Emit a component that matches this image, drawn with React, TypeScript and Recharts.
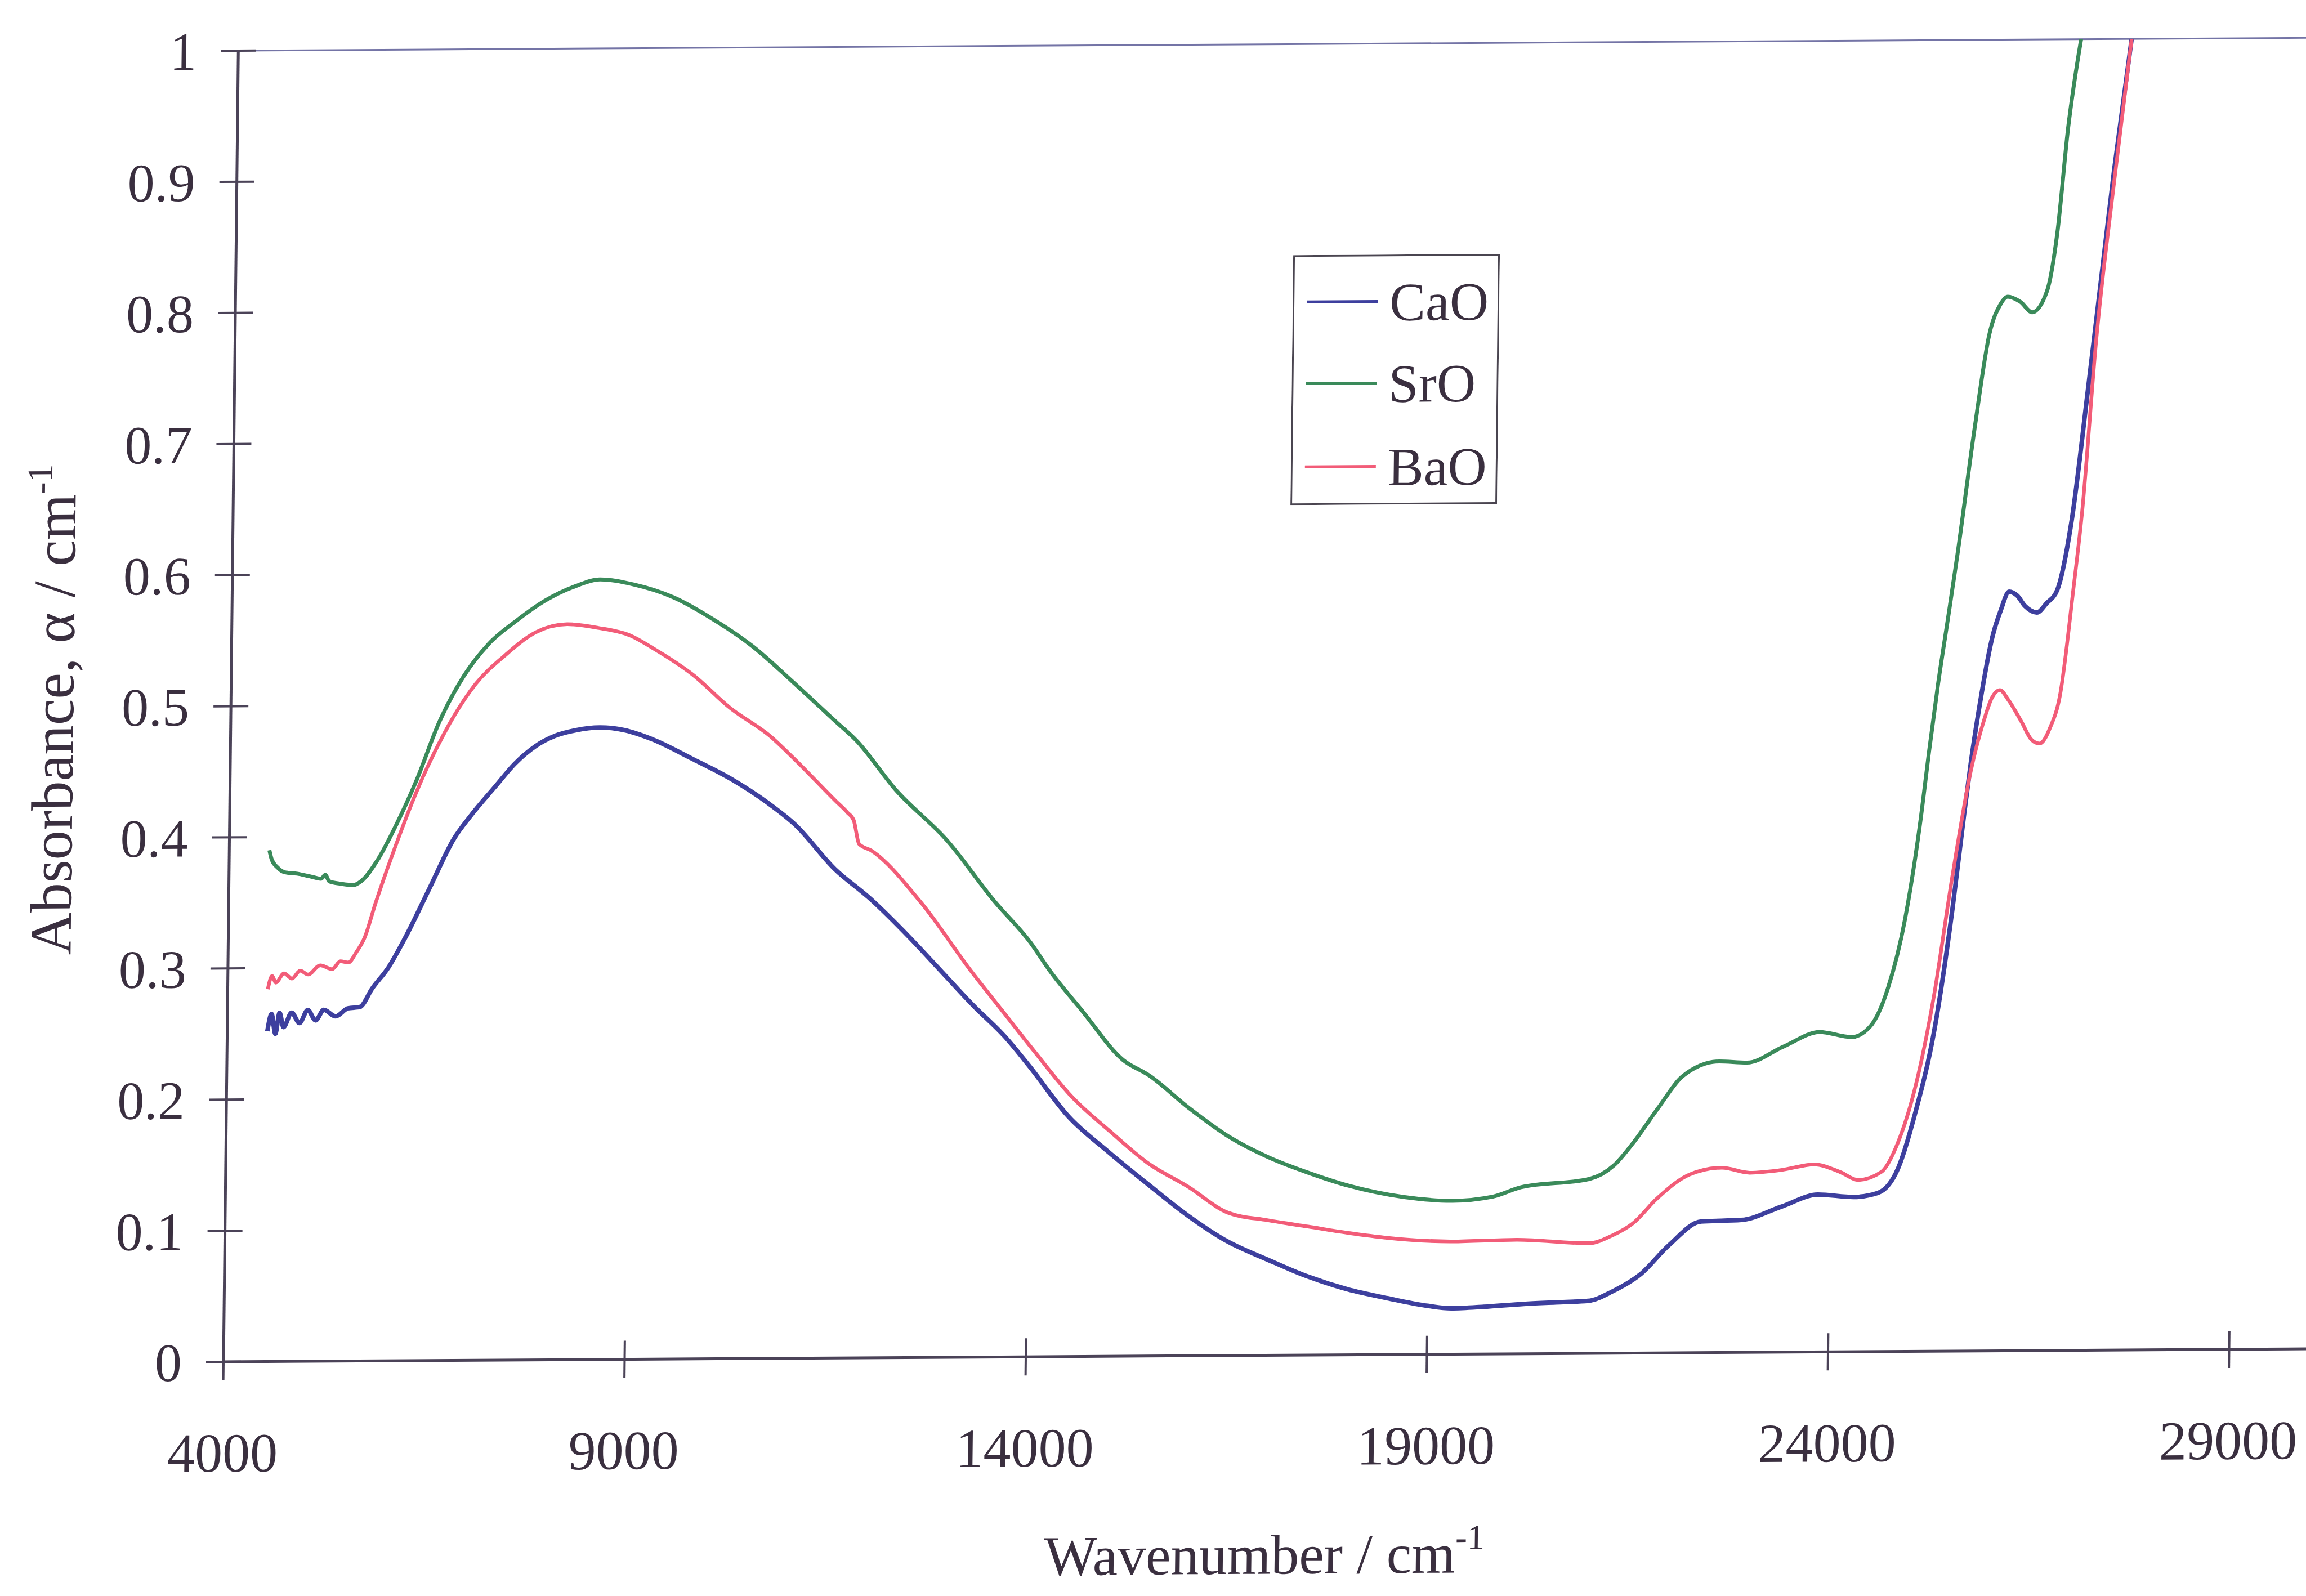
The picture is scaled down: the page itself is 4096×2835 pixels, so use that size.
import React from 'react';
import { LineChart, Line, XAxis, YAxis, Legend, ReferenceLine } from 'recharts';

// wavenumbers (cm-1) and absorbance
const wnCaO = [4500, 4550, 4600, 4650, 4700, 4800, 4900, 5000, 5100, 5200, 5350, 5500, 5650, 5800, 6000, 6200, 6500, 6800, 7000, 7300, 7550, 7800, 8050, 8300, 8600, 8900, 9250, 9750, 10250, 10700, 11050, 11550, 12000, 12500, 12900, 13300, 13700, 14000, 14500, 15000, 15500, 16000, 16500, 17000, 17500, 18000, 18500, 19000, 19300, 19700, 20200, 20600, 21000, 21300, 21650, 22000, 22400, 22900, 23400, 23850, 24300, 24600, 24850, 25050, 25280, 25490, 25620, 25700, 25800, 25950, 26050, 26150, 26250, 26350, 26500, 26620, 26750, 26920, 27100, 27250, 27400, 27600];
const absCaO = [0.252, 0.265, 0.25, 0.266, 0.255, 0.266, 0.258, 0.268, 0.26, 0.268, 0.263, 0.269, 0.27, 0.284, 0.3, 0.322, 0.36, 0.398, 0.415, 0.437, 0.455, 0.468, 0.476, 0.48, 0.482, 0.48, 0.473, 0.458, 0.442, 0.424, 0.407, 0.373, 0.35, 0.32, 0.294, 0.268, 0.244, 0.222, 0.183, 0.156, 0.131, 0.107, 0.087, 0.073, 0.06, 0.05, 0.043, 0.037, 0.035, 0.036, 0.038, 0.039, 0.04, 0.047, 0.06, 0.082, 0.1, 0.101, 0.111, 0.12, 0.118, 0.121, 0.14, 0.181, 0.245, 0.338, 0.409, 0.45, 0.493, 0.545, 0.565, 0.579, 0.576, 0.568, 0.563, 0.57, 0.58, 0.633, 0.73, 0.815, 0.9, 1.0];

const wnSrO = [4500, 4530, 4600, 4700, 4850, 5000, 5150, 5200, 5250, 5400, 5550, 5650, 5850, 6080, 6320, 6600, 6900, 7200, 7550, 7900, 8280, 8580, 9000, 9500, 10000, 10500, 11000, 11550, 11800, 12300, 12950, 13540, 14000, 14250, 14650, 15170, 15500, 16000, 16500, 17000, 17500, 18000, 18700, 19300, 19800, 20150, 21000, 21300, 21550, 21850, 22150, 22600, 22950, 23400, 23850, 24250, 24480, 24700, 24900, 25070, 25180, 25280, 25390, 25500, 25700, 25870, 26000, 26090, 26250, 26400, 26580, 26700, 26820, 26970];
const absSrO = [0.39, 0.383, 0.377, 0.373, 0.372, 0.37, 0.368, 0.371, 0.366, 0.364, 0.363, 0.366, 0.382, 0.409, 0.442, 0.487, 0.522, 0.546, 0.564, 0.579, 0.59, 0.595, 0.591, 0.581, 0.564, 0.543, 0.516, 0.485, 0.471, 0.433, 0.394, 0.348, 0.316, 0.294, 0.264, 0.226, 0.214, 0.189, 0.167, 0.151, 0.139, 0.129, 0.12, 0.117, 0.12, 0.127, 0.133, 0.143, 0.161, 0.187, 0.211, 0.222, 0.221, 0.233, 0.244, 0.24, 0.248, 0.278, 0.33, 0.401, 0.46, 0.51, 0.558, 0.607, 0.705, 0.776, 0.798, 0.804, 0.8, 0.792, 0.808, 0.852, 0.932, 1.0];

const wnBaO = [4500, 4550, 4600, 4700, 4800, 4900, 5000, 5150, 5300, 5400, 5500, 5600, 5700, 5830, 6080, 6320, 6660, 7050, 7400, 7790, 8180, 8570, 8970, 9260, 9750, 10230, 10720, 11000, 11550, 11700, 11780, 11850, 12000, 12630, 13270, 13660, 14050, 14540, 15030, 15500, 16000, 16500, 17000, 17500, 18000, 18500, 19300, 20100, 21000, 21300, 21550, 21850, 22250, 22650, 23000, 23400, 23800, 24130, 24350, 24640, 24840, 25060, 25270, 25480, 25700, 25860, 25950, 26050, 26150, 26320, 26450, 26550, 26680, 26800, 26950, 27050, 27200, 27400, 27600];
const absBaO = [0.284, 0.294, 0.289, 0.296, 0.292, 0.298, 0.295, 0.302, 0.299, 0.305, 0.304, 0.312, 0.323, 0.349, 0.394, 0.433, 0.478, 0.516, 0.537, 0.555, 0.561, 0.558, 0.552, 0.542, 0.522, 0.496, 0.475, 0.459, 0.425, 0.416, 0.41, 0.392, 0.387, 0.347, 0.294, 0.264, 0.234, 0.198, 0.171, 0.147, 0.129, 0.109, 0.103, 0.098, 0.093, 0.089, 0.086, 0.087, 0.084, 0.09, 0.099, 0.118, 0.136, 0.141, 0.137, 0.139, 0.143, 0.137, 0.131, 0.137, 0.159, 0.204, 0.271, 0.361, 0.443, 0.482, 0.498, 0.504, 0.497, 0.48, 0.466, 0.463, 0.475, 0.5, 0.58, 0.64, 0.77, 0.89, 1.0];

const xTicks = [4000, 9000, 14000, 19000, 24000, 29000];
const yTicks = [0, 0.1, 0.2, 0.3, 0.4, 0.5, 0.6, 0.7, 0.8, 0.9, 1];

const SERIES = [
  { name: 'CaO', color: '#3d3f9e', width: 8, wn: wnCaO, abs: absCaO },
  { name: 'SrO', color: '#3a8a5a', width: 7, wn: wnSrO, abs: absSrO },
  { name: 'BaO', color: '#f25c78', width: 6.5, wn: wnBaO, abs: absBaO },
];

const toPoints = (wn: number[], abs: number[]) => wn.map((w, i) => ({ wn: w, a: abs[i] }));

const FONT = '"Liberation Serif", "Times New Roman", serif';
const TEXT = '#3a2f3f';
const AXIS = '#4b4358';

// layout of the plot box (window px)
const W = 4110;
const H = 2835;
const PLOT_LEFT = 397;
const PLOT_TOP = 90;
const PLOT_BOTTOM = 2419;
// the scan is slightly sheared: y axis leans right, x axis rises to the right
const SHEAR_X = -0.0113;
const SHEAR_Y = -0.0062;

function YTick(props: any) {
  const { x, y, payload } = props;
  return (
    <g>
      <line x1={x - 31} x2={x + 31} y1={y} y2={y} stroke={AXIS} strokeWidth={4} />
      <text x={x - 74} y={y} dy="0.35em" textAnchor="end" fontFamily={FONT} fontSize={96} fill={TEXT}>
        {payload.value}
      </text>
    </g>
  );
}

function XTick(props: any) {
  const { x, y, payload } = props;
  return (
    <g>
      <line x1={x} x2={x} y1={y - 33} y2={y + 33} stroke={AXIS} strokeWidth={4} />
      <text x={x} y={y + 195} textAnchor="middle" fontFamily={FONT} fontSize={98} fill={TEXT}>
        {payload.value}
      </text>
    </g>
  );
}

function YTitle(props: any) {
  const vb = props.viewBox || { x: 0, y: PLOT_TOP, width: PLOT_LEFT, height: PLOT_BOTTOM - PLOT_TOP };
  const cx = vb.x + 117;
  const cy = vb.y + vb.height / 2 + 4;
  return (
    <text transform={`rotate(-90 ${cx} ${cy})`} x={cx} y={cy} textAnchor="middle" fontFamily={FONT} fontSize={105} fill={TEXT}>
      Absorbance, α / cm<tspan dy={-42} fontSize={64}>-1</tspan>
    </text>
  );
}

function XTitle(props: any) {
  const vb = props.viewBox || { x: PLOT_LEFT, y: PLOT_BOTTOM, width: W - 8 - PLOT_LEFT, height: H - PLOT_BOTTOM };
  return (
    <text x={vb.x + vb.width / 2} y={vb.y + 388} textAnchor="middle" fontFamily={FONT} fontSize={100} fill={TEXT}>
      Wavenumber / cm<tspan dy={-42} fontSize={62}>-1</tspan>
    </text>
  );
}

function LegendBox() {
  const rows = [83, 228, 376];
  return (
    <svg width={367} height={444} style={{ display: 'block' }}>
      <rect x={1.5} y={1.5} width={364} height={441} fill="#fff" stroke="#4a4550" strokeWidth={3} />
      {SERIES.map((s, i) => (
        <g key={s.name}>
          <line x1={25} x2={151} y1={rows[i]} y2={rows[i]} stroke={s.color} strokeWidth={5} />
          <text x={172} y={rows[i]} dy="0.35em" fontFamily={FONT} fontSize={96} fill={TEXT}>
            {s.name}
          </text>
        </g>
      ))}
    </svg>
  );
}

export default function App() {
  return (
    <div style={{ position: 'absolute', left: 0, top: 0, width: 4096, height: 2835, overflow: 'hidden', background: '#fff' }}>
      <div
        style={{
          width: W,
          height: H,
          transform: `matrix(1, ${SHEAR_Y}, ${SHEAR_X}, 1, 0, 0)`,
          transformOrigin: `${PLOT_LEFT}px ${PLOT_BOTTOM}px`,
        }}
      >
        <LineChart width={W} height={H} margin={{ top: PLOT_TOP, right: 8, bottom: 0, left: 0 }}>
          <XAxis
            dataKey="wn"
            type="number"
            domain={[4000, 30000]}
            ticks={xTicks}
            interval={0}
            allowDataOverflow
            height={H - PLOT_BOTTOM}
            tickSize={0}
            tickMargin={0}
            tickLine={false}
            tick={(p: any) => <XTick {...p} />}
            axisLine={{ stroke: AXIS, strokeWidth: 5 }}
            label={(p: any) => <XTitle {...p} />}
          />
          <YAxis
            type="number"
            domain={[0, 1]}
            ticks={yTicks}
            interval={0}
            allowDataOverflow
            width={PLOT_LEFT}
            tickSize={0}
            tickMargin={0}
            tickLine={false}
            tick={(p: any) => <YTick {...p} />}
            axisLine={{ stroke: AXIS, strokeWidth: 5 }}
            label={(p: any) => <YTitle {...p} />}
          />
          <ReferenceLine y={1} stroke="#7474a6" strokeWidth={3} />
          <Legend
            layout="vertical"
            align="center"
            verticalAlign="middle"
            content={() => <LegendBox />}
            wrapperStyle={{ left: 2275, top: 465, width: 367, height: 444 }}
          />
          {SERIES.map((s) => (
            <Line
              key={s.name}
              data={toPoints(s.wn, s.abs)}
              dataKey="a"
              name={s.name}
              type="monotone"
              stroke={s.color}
              strokeWidth={s.width}
              dot={false}
              activeDot={false}
              isAnimationActive={false}
            />
          ))}
        </LineChart>
      </div>
    </div>
  );
}
